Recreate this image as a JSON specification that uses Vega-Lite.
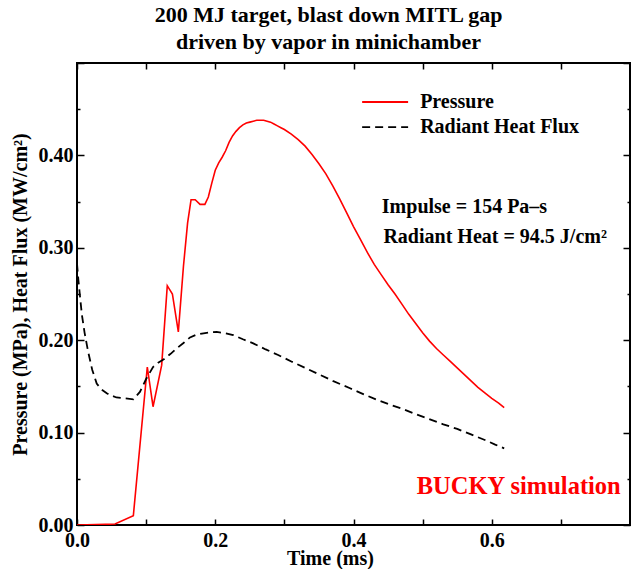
{
  "$schema": "https://vega.github.io/schema/vega-lite/v6.json",
  "autosize": "none",
  "width": 553,
  "height": 462,
  "padding": {"left": 77, "top": 63, "right": 1, "bottom": 44},
  "background": "white",
  "title": {
    "text": ["200 MJ target, blast down MITL gap", "driven by vapor in minichamber"],
    "font": "Liberation Serif",
    "fontSize": 22,
    "fontWeight": "bold",
    "color": "black",
    "anchor": "middle",
    "frame": "group",
    "dx": -25,
    "offset": 8,
    "lineHeight": 27
  },
  "datasets": {
    "pressure": [
      {"t": 0, "v": 0}, {"t": 0.055, "v": 0.001}, {"t": 0.0815, "v": 0.010},
      {"t": 0.1017, "v": 0.171}, {"t": 0.110, "v": 0.128}, {"t": 0.1225, "v": 0.173},
      {"t": 0.1306, "v": 0.259}, {"t": 0.138, "v": 0.250}, {"t": 0.1466, "v": 0.209},
      {"t": 0.154, "v": 0.280}, {"t": 0.160, "v": 0.327}, {"t": 0.165, "v": 0.352},
      {"t": 0.171, "v": 0.352}, {"t": 0.178, "v": 0.347}, {"t": 0.185, "v": 0.347},
      {"t": 0.190, "v": 0.355}, {"t": 0.195, "v": 0.370}, {"t": 0.200, "v": 0.384},
      {"t": 0.205, "v": 0.392}, {"t": 0.210, "v": 0.398}, {"t": 0.215, "v": 0.405},
      {"t": 0.220, "v": 0.414}, {"t": 0.225, "v": 0.421}, {"t": 0.230, "v": 0.426},
      {"t": 0.235, "v": 0.430}, {"t": 0.240, "v": 0.433}, {"t": 0.245, "v": 0.435},
      {"t": 0.250, "v": 0.436}, {"t": 0.255, "v": 0.437}, {"t": 0.260, "v": 0.438},
      {"t": 0.265, "v": 0.438}, {"t": 0.270, "v": 0.438}, {"t": 0.275, "v": 0.437},
      {"t": 0.280, "v": 0.436}, {"t": 0.285, "v": 0.434}, {"t": 0.290, "v": 0.432},
      {"t": 0.295, "v": 0.430}, {"t": 0.300, "v": 0.428}, {"t": 0.310, "v": 0.423},
      {"t": 0.320, "v": 0.417}, {"t": 0.330, "v": 0.410}, {"t": 0.340, "v": 0.401},
      {"t": 0.350, "v": 0.391}, {"t": 0.360, "v": 0.380}, {"t": 0.370, "v": 0.367},
      {"t": 0.380, "v": 0.353}, {"t": 0.390, "v": 0.338}, {"t": 0.400, "v": 0.323},
      {"t": 0.410, "v": 0.309}, {"t": 0.420, "v": 0.295}, {"t": 0.430, "v": 0.282},
      {"t": 0.440, "v": 0.271}, {"t": 0.450, "v": 0.260}, {"t": 0.460, "v": 0.250},
      {"t": 0.470, "v": 0.239}, {"t": 0.480, "v": 0.228}, {"t": 0.490, "v": 0.218},
      {"t": 0.500, "v": 0.208}, {"t": 0.510, "v": 0.199}, {"t": 0.520, "v": 0.191},
      {"t": 0.530, "v": 0.184}, {"t": 0.540, "v": 0.177}, {"t": 0.550, "v": 0.170},
      {"t": 0.560, "v": 0.163}, {"t": 0.570, "v": 0.156}, {"t": 0.580, "v": 0.149},
      {"t": 0.590, "v": 0.143}, {"t": 0.600, "v": 0.137}, {"t": 0.610, "v": 0.132},
      {"t": 0.618, "v": 0.127}
    ],
    "heat": [
      {"t": 0, "v": 0.283}, {"t": 0.002, "v": 0.265}, {"t": 0.004, "v": 0.250},
      {"t": 0.007, "v": 0.228}, {"t": 0.011, "v": 0.208}, {"t": 0.016, "v": 0.188},
      {"t": 0.022, "v": 0.168}, {"t": 0.0285, "v": 0.153}, {"t": 0.035, "v": 0.147},
      {"t": 0.043, "v": 0.1425}, {"t": 0.050, "v": 0.140}, {"t": 0.057, "v": 0.138},
      {"t": 0.070, "v": 0.137}, {"t": 0.0815, "v": 0.136}, {"t": 0.091, "v": 0.144},
      {"t": 0.100, "v": 0.158}, {"t": 0.110, "v": 0.171}, {"t": 0.118, "v": 0.176},
      {"t": 0.125, "v": 0.179}, {"t": 0.135, "v": 0.185}, {"t": 0.144, "v": 0.191},
      {"t": 0.154, "v": 0.197}, {"t": 0.1635, "v": 0.203}, {"t": 0.173, "v": 0.206},
      {"t": 0.183, "v": 0.2075}, {"t": 0.192, "v": 0.2085}, {"t": 0.202, "v": 0.209},
      {"t": 0.214, "v": 0.2075}, {"t": 0.226, "v": 0.2056}, {"t": 0.240, "v": 0.201},
      {"t": 0.255, "v": 0.1966}, {"t": 0.273, "v": 0.190}, {"t": 0.291, "v": 0.184},
      {"t": 0.310, "v": 0.177}, {"t": 0.330, "v": 0.170}, {"t": 0.350, "v": 0.163},
      {"t": 0.370, "v": 0.156}, {"t": 0.395, "v": 0.148}, {"t": 0.410, "v": 0.143},
      {"t": 0.429, "v": 0.137}, {"t": 0.450, "v": 0.131}, {"t": 0.470, "v": 0.126},
      {"t": 0.490, "v": 0.120}, {"t": 0.506, "v": 0.1155}, {"t": 0.530, "v": 0.109},
      {"t": 0.550, "v": 0.104}, {"t": 0.570, "v": 0.098}, {"t": 0.590, "v": 0.092},
      {"t": 0.605, "v": 0.087}, {"t": 0.618, "v": 0.083}
    ],
    "legend": [
      {"t1": 0.4125, "t2": 0.479, "v": 0.4578, "tl": 0.4964, "label": "Pressure", "series": "Pressure"},
      {"t1": 0.4125, "t2": 0.479, "v": 0.4307, "tl": 0.4964, "label": "Radiant Heat Flux", "series": "Radiant Heat Flux"}
    ],
    "notes": [
      {"t": 0.441, "v": 0.344, "text": "Impulse = 154 Pa–s"},
      {"t": 0.4433, "v": 0.312, "text": "Radiant Heat = 94.5 J/cm²"}
    ],
    "credit": [
      {"t": 0.4915, "v": 0.0415, "text": "BUCKY simulation"}
    ]
  },
  "layer": [
    {
      "data": {"name": "pressure"},
      "mark": {"type": "line", "color": "#ff0000", "strokeWidth": 1.6, "clip": true},
      "encoding": {
        "x": {
          "field": "t", "type": "quantitative",
          "scale": {"domain": [0, 0.8], "nice": false, "zero": false},
          "axis": {
            "orient": "bottom",
            "title": "Time (ms)",
            "values": [0, 0.1, 0.2, 0.3, 0.4, 0.5, 0.6, 0.7, 0.8],
            "format": ".1f",
            "labelExpr": "(round(datum.value*10) % 2 == 0 && datum.value < 0.75) ? datum.label : ''",
            "labelFlush": false,
            "tickSize": -6,
            "labelPadding": 11,
            "titleX": 253,
            "titleY": 23
          }
        },
        "y": {
          "field": "v", "type": "quantitative",
          "scale": {"domain": [0, 0.5], "nice": false, "zero": false},
          "axis": {
            "orient": "left",
            "title": "Pressure (MPa), Heat Flux (MW/cm²)",
            "values": [0, 0.1, 0.2, 0.3, 0.4, 0.5],
            "format": ".2f",
            "labelExpr": "datum.value > 0.45 ? '' : datum.label",
            "labelFlush": false,
            "tickSize": -7,
            "labelPadding": 11,
            "titlePadding": 8
          }
        }
      }
    },
    {
      "data": {"name": "heat"},
      "mark": {"type": "line", "color": "#000000", "strokeWidth": 1.8, "strokeDash": [8, 5], "clip": true},
      "encoding": {
        "x": {
          "field": "t", "type": "quantitative",
          "axis": {
            "orient": "top", "title": null, "labels": false,
            "values": [0, 0.1, 0.2, 0.3, 0.4, 0.5, 0.6, 0.7, 0.8],
            "tickSize": -6
          }
        },
        "y": {
          "field": "v", "type": "quantitative",
          "axis": {
            "orient": "right", "title": null, "labels": false,
            "values": [0, 0.1, 0.2, 0.3, 0.4, 0.5],
            "tickSize": -7
          }
        }
      }
    },
    {
      "data": {"name": "heat"},
      "mark": {"type": "line", "opacity": 0},
      "encoding": {
        "x": {"field": "t", "type": "quantitative", "axis": null},
        "y": {
          "field": "v", "type": "quantitative",
          "axis": {
            "orient": "left", "title": null, "labels": false,
            "values": [0.05, 0.15, 0.25, 0.35, 0.45],
            "tickSize": -3
          }
        }
      }
    },
    {
      "data": {"name": "heat"},
      "mark": {"type": "line", "opacity": 0},
      "encoding": {
        "x": {"field": "t", "type": "quantitative", "axis": null},
        "y": {
          "field": "v", "type": "quantitative",
          "axis": {
            "orient": "right", "title": null, "labels": false,
            "values": [0.05, 0.15, 0.25, 0.35, 0.45],
            "tickSize": -3
          }
        }
      }
    },
    {
      "data": {"name": "legend"},
      "mark": {"type": "rule", "strokeWidth": 1.8},
      "encoding": {
        "x": {"field": "t1", "type": "quantitative", "axis": null},
        "x2": {"field": "t2"},
        "y": {"field": "v", "type": "quantitative", "axis": null},
        "color": {"field": "series", "type": "nominal", "scale": {"domain": ["Pressure", "Radiant Heat Flux"], "range": ["#ff0000", "#000000"]}, "legend": null},
        "strokeDash": {"field": "series", "type": "nominal", "scale": {"domain": ["Pressure", "Radiant Heat Flux"], "range": [[1, 0], [8, 5]]}, "legend": null}
      }
    },
    {
      "data": {"name": "legend"},
      "mark": {"type": "text", "align": "left", "baseline": "middle", "font": "Liberation Serif", "fontSize": 20, "fontWeight": "bold", "color": "black"},
      "encoding": {
        "x": {"field": "tl", "type": "quantitative", "axis": null},
        "y": {"field": "v", "type": "quantitative", "axis": null},
        "text": {"field": "label"}
      }
    },
    {
      "data": {"name": "notes"},
      "mark": {"type": "text", "align": "left", "baseline": "middle", "font": "Liberation Serif", "fontSize": 20, "fontWeight": "bold", "color": "black"},
      "encoding": {
        "x": {"field": "t", "type": "quantitative", "axis": null},
        "y": {"field": "v", "type": "quantitative", "axis": null},
        "text": {"field": "text"}
      }
    },
    {
      "data": {"name": "credit"},
      "mark": {"type": "text", "align": "left", "baseline": "middle", "font": "Liberation Serif", "fontSize": 24.5, "fontWeight": "bold", "color": "#ff0000"},
      "encoding": {
        "x": {"field": "t", "type": "quantitative", "axis": null},
        "y": {"field": "v", "type": "quantitative", "axis": null},
        "text": {"field": "text"}
      }
    }
  ],
  "resolve": {"axis": {"x": "independent", "y": "independent"}},
  "config": {
    "view": {"stroke": "black", "strokeWidth": 2},
    "axis": {
      "domain": false,
      "grid": false,
      "tickColor": "black",
      "tickWidth": 1.5,
      "labelFont": "Liberation Serif",
      "labelFontSize": 20,
      "labelFontWeight": "bold",
      "labelColor": "black",
      "titleFont": "Liberation Serif",
      "titleFontSize": 20,
      "titleFontWeight": "bold",
      "titleColor": "black"
    }
  }
}
